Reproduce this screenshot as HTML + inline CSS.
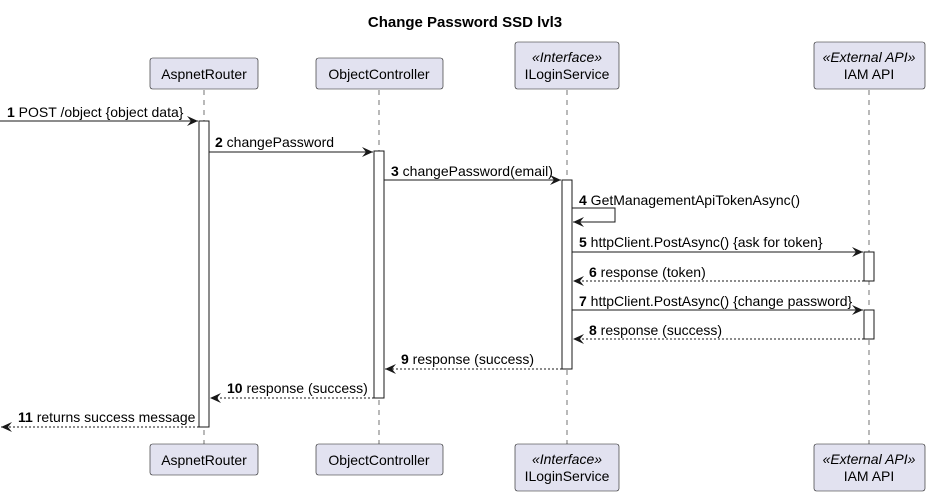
<!DOCTYPE html>
<html><head><meta charset="utf-8"><style>
body{margin:0;background:#fff}
svg{display:block;font-family:"Liberation Sans",sans-serif}
.b{fill:#e2e2f0;stroke:#181818;stroke-width:0.6}
.t{font-size:14px;fill:#000;text-anchor:middle}
.m{font-size:14px;fill:#000}
.ll{stroke:#181818;stroke-width:0.6;stroke-dasharray:5,5}
.a{fill:#fff;stroke:#181818;stroke-width:1}
.s{stroke:#181818;stroke-width:1;fill:none}
.d{stroke:#181818;stroke-width:1;fill:none;stroke-dasharray:2,2}
</style></head><body>
<svg width="930" height="496" viewBox="0 0 930 496">
<defs><marker id="h" markerWidth="12" markerHeight="10" refX="11" refY="5" orient="auto" markerUnits="userSpaceOnUse"><path d="M0,0 L11,5 L0,10 L4,5 Z" fill="#181818"/></marker></defs>
<text x="465" y="27" font-size="15" font-weight="bold" text-anchor="middle">Change Password SSD lvl3</text>
<line class="ll" x1="204" y1="90" x2="204" y2="444"/>
<line class="ll" x1="379" y1="90" x2="379" y2="444"/>
<line class="ll" x1="567" y1="90" x2="567" y2="444"/>
<line class="ll" x1="869" y1="90" x2="869" y2="444"/>
<rect class="b" x="150" y="58" width="108" height="31" rx="2.5"/><text class="t" x="204" y="79">AspnetRouter</text>
<rect class="b" x="316" y="58" width="127" height="31" rx="2.5"/><text class="t" x="379" y="79">ObjectController</text>
<rect class="b" x="515" y="42" width="104" height="47" rx="2.5"/><text class="t" x="567" y="62" font-style="italic">«Interface»</text><text class="t" x="567" y="79">ILoginService</text>
<rect class="b" x="814" y="42" width="111" height="47" rx="2.5"/><text class="t" x="869" y="62" font-style="italic">«External API»</text><text class="t" x="869" y="79">IAM API</text>
<rect class="b" x="150" y="444" width="108" height="31" rx="2.5"/><text class="t" x="204" y="465">AspnetRouter</text>
<rect class="b" x="316" y="444" width="127" height="31" rx="2.5"/><text class="t" x="379" y="465">ObjectController</text>
<rect class="b" x="515" y="444" width="104" height="47" rx="2.5"/><text class="t" x="567" y="464" font-style="italic">«Interface»</text><text class="t" x="567" y="481">ILoginService</text>
<rect class="b" x="814" y="444" width="111" height="47" rx="2.5"/><text class="t" x="869" y="464" font-style="italic">«External API»</text><text class="t" x="869" y="481">IAM API</text>
<rect class="a" x="199" y="121" width="10" height="306"/>
<rect class="a" x="374" y="151" width="10" height="247"/>
<rect class="a" x="562" y="180" width="10" height="189"/>
<rect class="a" x="864" y="252" width="10" height="29"/>
<rect class="a" x="864" y="310" width="10" height="29"/>
<line class="s" x1="0" y1="121" x2="198" y2="121" marker-end="url(#h)"/>
<text class="m" x="7" y="117"><tspan font-weight="bold">1</tspan> POST /object {object data}</text>
<line class="s" x1="209" y1="152" x2="373" y2="152" marker-end="url(#h)"/>
<text class="m" x="215" y="147"><tspan font-weight="bold">2</tspan> changePassword</text>
<line class="s" x1="384" y1="180" x2="561" y2="180" marker-end="url(#h)"/>
<text class="m" x="391" y="176"><tspan font-weight="bold">3</tspan> changePassword(email)</text>
<polyline class="s" points="572,208 615,208 615,222 573,222" marker-end="url(#h)"/>
<text class="m" x="579" y="205"><tspan font-weight="bold">4</tspan> GetManagementApiTokenAsync()</text>
<line class="s" x1="572" y1="252" x2="863" y2="252" marker-end="url(#h)"/>
<text class="m" x="579" y="247"><tspan font-weight="bold">5</tspan> httpClient.PostAsync() {ask for token}</text>
<line class="d" x1="864" y1="281" x2="573" y2="281" marker-end="url(#h)"/>
<text class="m" x="589" y="277"><tspan font-weight="bold">6</tspan> response (token)</text>
<line class="s" x1="572" y1="310" x2="863" y2="310" marker-end="url(#h)"/>
<text class="m" x="579" y="306"><tspan font-weight="bold">7</tspan> httpClient.PostAsync() {change password}</text>
<line class="d" x1="864" y1="339" x2="573" y2="339" marker-end="url(#h)"/>
<text class="m" x="589" y="335"><tspan font-weight="bold">8</tspan> response (success)</text>
<line class="d" x1="562" y1="369" x2="385" y2="369" marker-end="url(#h)"/>
<text class="m" x="401" y="364"><tspan font-weight="bold">9</tspan> response (success)</text>
<line class="d" x1="374" y1="398" x2="210" y2="398" marker-end="url(#h)"/>
<text class="m" x="227" y="393"><tspan font-weight="bold">10</tspan> response (success)</text>
<line class="d" x1="199" y1="427" x2="1" y2="427" marker-end="url(#h)"/>
<text class="m" x="18" y="422"><tspan font-weight="bold">11</tspan> returns success message</text>
</svg>
</body></html>
